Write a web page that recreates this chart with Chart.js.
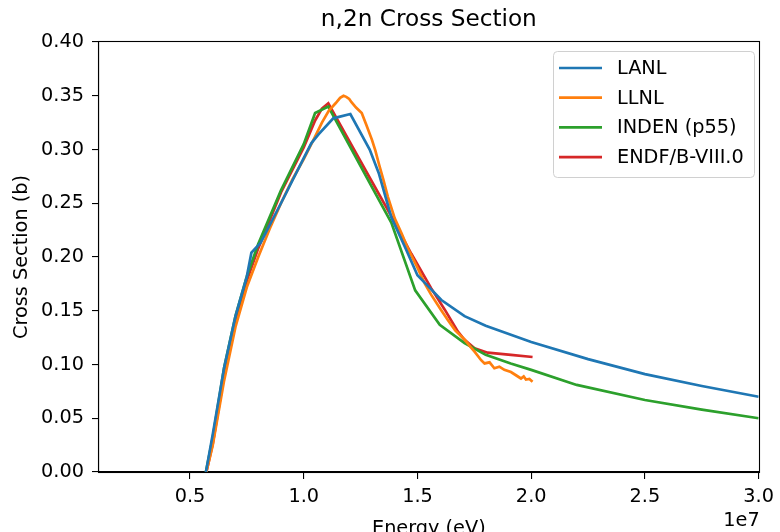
<!DOCTYPE html>
<html>
<head>
<meta charset="utf-8">
<script src="https://cdn.jsdelivr.net/npm/chart.js@4.4.1/dist/chart.umd.min.js"></script>
<style>
html,body{margin:0;padding:0;background:#fff;}
#wrap{width:780px;height:532px;}
</style>
</head>
<body>
<div id="wrap"><canvas id="c" width="780" height="532"></canvas></div>
<script>
// ---- data (energy in eV, cross section in barns) ----
const lanlE  = [5.7e6,6.0e6,6.5e6,7.0e6,7.5e6,7.7e6,8.1e6,9.0e6,1.0e7,1.034e7,1.065e7,1.13e7,1.205e7,1.29e7,1.33e7,1.385e7,1.45e7,1.5e7,1.555e7,1.605e7,1.707e7,1.8e7,2.0e7,2.25e7,2.5e7,2.75e7,3.0e7];
const lanlXS = [0,0.035,0.097,0.145,0.182,0.204,0.213,0.250,0.292,0.306,0.314,0.329,0.333,0.300,0.278,0.237,0.207,0.183,0.171,0.160,0.145,0.136,0.121,0.105,0.091,0.080,0.070];

const llnlE  = [5.72e6,6.0e6,6.5e6,7.0e6,7.5e6,8.0e6,8.5e6,9.0e6,9.5e6,1.0e7,1.05e7,1.08e7,1.11e7,1.14e7,1.16e7,1.175e7,1.187e7,1.2e7,1.21e7,1.23e7,1.255e7,1.275e7,1.3e7,1.315e7,1.33e7,1.35e7,1.37e7,1.4e7,1.43e7,1.46e7,1.5e7,1.533e7,1.56e7,1.603e7,1.635e7,1.665e7,1.708e7,1.735e7,1.751e7,1.78e7,1.795e7,1.817e7,1.838e7,1.86e7,1.882e7,1.911e7,1.933e7,1.955e7,1.967e7,1.977e7,1.992e7,2.006e7];
const llnlXS = [0,0.025,0.085,0.135,0.172,0.200,0.226,0.250,0.272,0.291,0.312,0.325,0.336,0.343,0.348,0.350,0.349,0.347,0.344,0.339,0.334,0.323,0.309,0.299,0.287,0.272,0.256,0.236,0.222,0.207,0.190,0.175,0.165,0.151,0.141,0.132,0.123,0.116,0.112,0.104,0.101,0.102,0.0965,0.098,0.095,0.093,0.090,0.087,0.089,0.086,0.0865,0.084];

const indenE  = [5.7e6,6.0e6,6.5e6,7.0e6,7.5e6,8.0e6,9.0e6,1.0e7,1.05e7,1.108e7,1.2e7,1.3e7,1.385e7,1.49e7,1.598e7,1.707e7,1.8e7,1.91e7,2.0e7,2.2e7,2.5e7,2.75e7,3.0e7];
const indenXS = [0,0.032,0.097,0.145,0.182,0.212,0.262,0.305,0.334,0.340,0.304,0.265,0.232,0.169,0.137,0.120,0.109,0.101,0.095,0.081,0.067,0.058,0.050];

const endfE  = [5.72e6,6.0e6,6.5e6,7.0e6,7.5e6,8.0e6,9.0e6,1.0e7,1.05e7,1.08e7,1.108e7,1.2e7,1.3e7,1.385e7,1.473e7,1.56e7,1.62e7,1.678e7,1.707e7,1.751e7,1.809e7,1.911e7,2.006e7];
const endfXS = [0,0.026,0.090,0.140,0.178,0.208,0.260,0.302,0.327,0.338,0.343,0.308,0.270,0.238,0.203,0.171,0.151,0.1305,0.123,0.115,0.111,0.109,0.107];

const seriesNames  = ['LANL','LLNL','INDEN (p55)','ENDF/B-VIII.0'];
const seriesColors = ['#1f77b4','#ff7f0e','#2ca02c','#d62728'];

const xTicks = [5e6,1e7,1.5e7,2e7,2.5e7,3e7];
const yTicks = [0,0.05,0.10,0.15,0.20,0.25,0.30,0.35,0.40];

const titleText = 'n,2n Cross Section';
const xTitle = 'Energy (eV)';
const yTitle = 'Cross Section (b)';
const xOffsetText = '1e7';

// ---- build ----
function pts(E, S){ return E.map((e,i)=>({x:e,y:S[i]})); }
const allSeries = [[lanlE,lanlXS],[llnlE,llnlXS],[indenE,indenXS],[endfE,endfXS]];
const FONT = "'DejaVu Sans', sans-serif";
const FS = 19.3;
const LW = 2.7;

const datasets = allSeries.map((s,i)=>({
  label: seriesNames[i],
  data: pts(s[0], s[1]),
  borderColor: seriesColors[i],
  backgroundColor: seriesColors[i],
  borderWidth: LW,
  pointRadius: 0,
  tension: 0,
  fill: false
}));

const decor = {
  id: 'decor',
  afterDraw(chart){
    const ctx = chart.ctx, a = chart.chartArea;
    ctx.save();
    // frame
    ctx.strokeStyle = '#000'; ctx.lineWidth = 1.1;
    ctx.strokeRect(Math.round(a.left)-0.5, Math.round(a.top)-0.5, Math.round(a.right-a.left)+1, Math.round(a.bottom-a.top)+1);
    ctx.fillStyle = '#000';
    // title
    ctx.font = '23.2px ' + FONT;
    ctx.textAlign = 'center'; ctx.textBaseline = 'middle';
    ctx.fillText(titleText, (a.left+a.right)/2, 20);
    // x axis title
    ctx.font = FS + 'px ' + FONT;
    ctx.textBaseline = 'alphabetic';
    ctx.fillText(xTitle, (a.left+a.right)/2, 534);
    // offset text
    ctx.textAlign = 'right'; ctx.textBaseline = 'middle';
    ctx.fillText(xOffsetText, a.right + 1, 521);
    // legend
    const bx = 553, by = 51, bw = 201, bh = 126;
    ctx.beginPath();
    if (ctx.roundRect) ctx.roundRect(bx+0.5, by+0.5, bw, bh, 4); else ctx.rect(bx+0.5,by+0.5,bw,bh);
    ctx.fillStyle = 'rgba(255,255,255,0.8)'; ctx.fill();
    ctx.strokeStyle = '#d0d0d0'; ctx.lineWidth = 1; ctx.stroke();
    ctx.textAlign = 'left'; ctx.textBaseline = 'middle';
    chart.data.datasets.forEach((d,i)=>{
      const y = 68 + i*29.7;
      ctx.strokeStyle = d.borderColor; ctx.lineWidth = LW;
      ctx.beginPath(); ctx.moveTo(559, y); ctx.lineTo(602, y); ctx.stroke();
      ctx.fillStyle = '#000';
      ctx.fillText(d.label, 617, y + 1);
    });
    ctx.restore();
  }
};

new Chart(document.getElementById('c'), {
  type: 'line',
  data: { datasets },
  options: {
    responsive: false,
    animation: false,
    devicePixelRatio: 1,
    layout: { padding: { left: 0, right: 18, top: 42, bottom: 0 } },
    plugins: { legend: { display: false }, title: { display: false }, tooltip: { enabled: false } },
    scales: {
      x: {
        type: 'linear', min: 1e6, max: 3e7,
        afterBuildTicks(s){ s.ticks = xTicks.map(v=>({value:v})); },
        afterFit(s){ s.height = 60; },
        ticks: { callback: v => (v/1e7).toFixed(1), color: '#000', font: { family: FONT, size: FS }, padding: 6, maxRotation: 0, autoSkip: false },
        grid: { drawOnChartArea: false, drawTicks: true, tickLength: 7, color: '#000', lineWidth: 1.1 },
        border: { display: true, color: '#000', width: 1.1 },
        title: { display: false }
      },
      y: {
        type: 'linear', min: 0, max: 0.4,
        afterBuildTicks(s){ s.ticks = yTicks.map(v=>({value:v})); },
        afterFit(s){ s.width = 99; },
        ticks: { callback: v => v.toFixed(2), color: '#000', font: { family: FONT, size: FS }, padding: 8, autoSkip: false },
        grid: { drawOnChartArea: false, drawTicks: true, tickLength: 7, color: '#000', lineWidth: 1.1 },
        border: { display: true, color: '#000', width: 1.1 },
        title: { display: true, text: yTitle, color: '#000', font: { family: FONT, size: FS }, padding: { top: 10, bottom: 0 } }
      }
    }
  },
  plugins: [decor]
});
</script>
</body>
</html>
